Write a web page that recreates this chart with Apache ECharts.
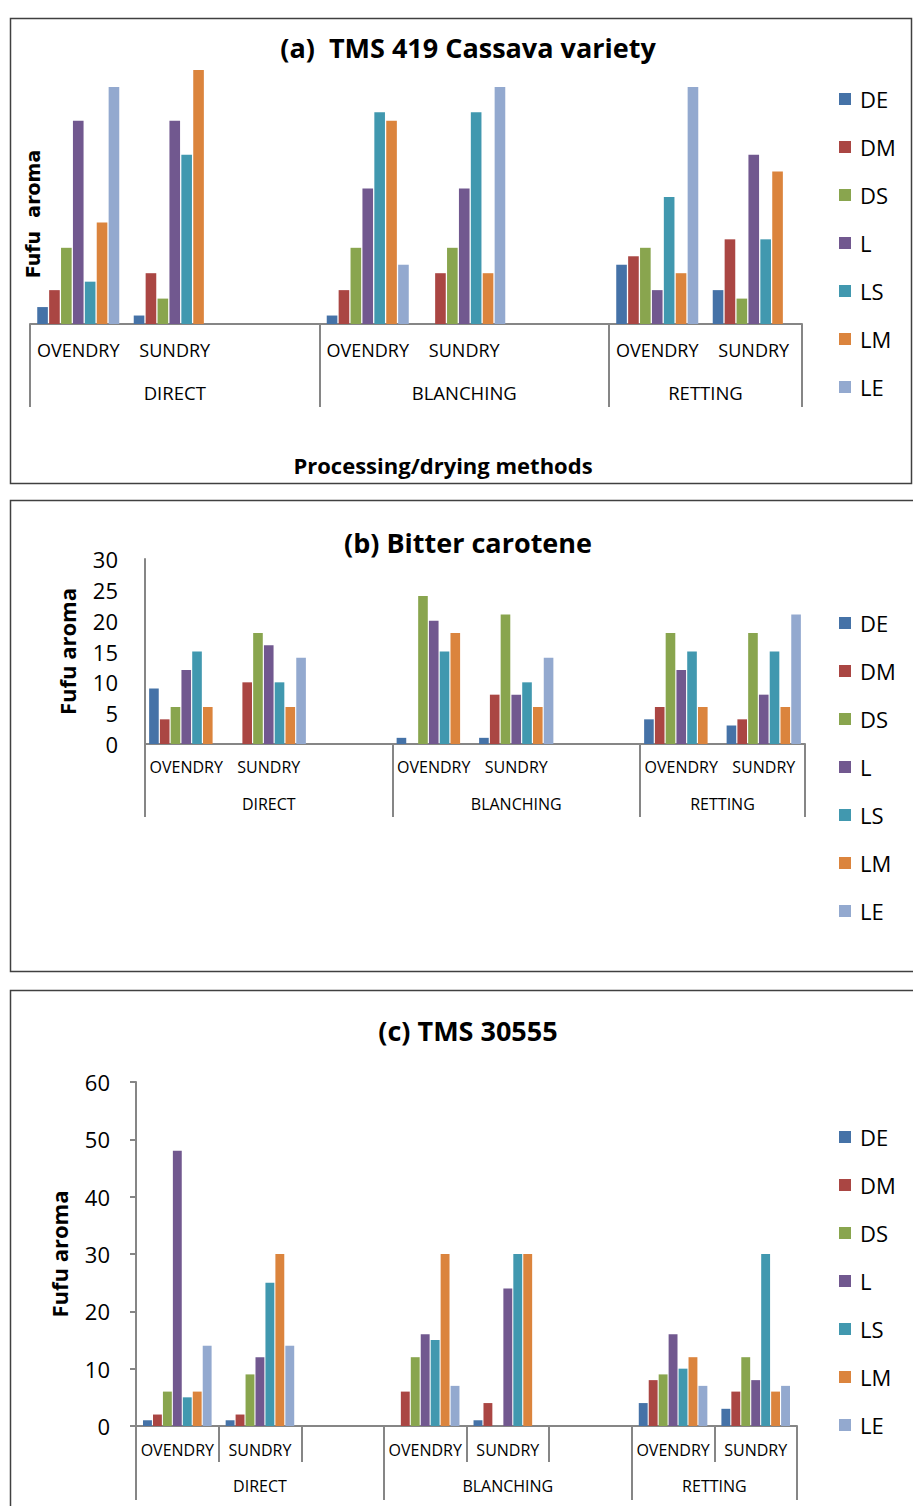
<!DOCTYPE html>
<html>
<head>
<meta charset="utf-8">
<script src="https://cdn.jsdelivr.net/npm/echarts@6/dist/echarts.min.js"></script>
<style>
html,body{margin:0;padding:0;background:#fff;}
#chart{width:913px;height:1506px;}
</style>
</head>
<body>
<div id="chart"></div>
<script>
// ---- categories ----
const subCats = ['OVENDRY', 'SUNDRY', '', 'OVENDRY', 'SUNDRY', '', 'OVENDRY', 'SUNDRY'];
const groups = ['DIRECT', 'BLANCHING', 'RETTING'];
const groupSlots = [3, 3, 2];
const seriesNames = ['DE', 'DM', 'DS', 'L', 'LS', 'LM', 'LE'];
const colors = ['#4572A7', '#AA4643', '#89A54E', '#71588F', '#4198AF', '#DB843D', '#93A9CF'];

// ---- (a) TMS 419 Cassava variety ----
const a_DE = [2, 1, null, 1, 0, null, 7, 4];
const a_DM = [4, 6, null, 4, 6, null, 8, 10];
const a_DS = [9, 3, null, 9, 9, null, 9, 3];
const a_L  = [24, 24, null, 16, 16, null, 4, 20];
const a_LS = [5, 20, null, 25, 25, null, 15, 10];
const a_LM = [12, 30, null, 24, 6, null, 6, 18];
const a_LE = [28, 0, null, 7, 28, null, 28, 0];

// ---- (b) Bitter carotene ----
const b_DE = [9, 0, null, 1, 1, null, 4, 3];
const b_DM = [4, 10, null, 0, 8, null, 6, 4];
const b_DS = [6, 18, null, 24, 21, null, 18, 18];
const b_L  = [12, 16, null, 20, 8, null, 12, 8];
const b_LS = [15, 10, null, 15, 10, null, 15, 15];
const b_LM = [6, 6, null, 18, 6, null, 6, 6];
const b_LE = [0, 14, null, 0, 14, null, 0, 21];

// ---- (c) TMS 30555 ----
const c_DE = [1, 1, null, 0, 1, null, 4, 3];
const c_DM = [2, 2, null, 6, 4, null, 8, 6];
const c_DS = [6, 9, null, 12, 0, null, 9, 12];
const c_L  = [48, 12, null, 16, 24, null, 16, 8];
const c_LS = [5, 25, null, 15, 30, null, 10, 30];
const c_LM = [6, 30, null, 30, 30, null, 12, 6];
const c_LE = [14, 14, null, 7, 0, null, 7, 7];

const titles = ['(a)  TMS 419 Cassava variety', '(b) Bitter carotene', '(c) TMS 30555'];
const yNameA = 'Fufu  aroma';
const yName = 'Fufu aroma';
const xName = 'Processing/drying methods';

// ---- structure helpers ----
const bounds = [0];
groupSlots.forEach(s => bounds.push(bounds[bounds.length - 1] + s));
const centers = groups.map((g, i) => (bounds[i] + bounds[i + 1]) / 2);
const totalSlots = bounds[bounds.length - 1];

const panelData = [
  [a_DE, a_DM, a_DS, a_L, a_LS, a_LM, a_LE],
  [b_DE, b_DM, b_DS, b_L, b_LS, b_LM, b_LE],
  [c_DE, c_DM, c_DS, c_L, c_LS, c_LM, c_LE]
];

const FONT = '"Open Sans", "Noto Sans", sans-serif';
const GRAY = '#868686';

const panels = [
  {grid: {left: 30, top: 70, width: 772, height: 254}, ymax: 30, yint: 5, showY: false, catGap: '15%',
   subFont: 18, subMargin: 17, grpFont: 18.5, grpMargin: 59, grpTick: 83, subTick: false},
  {grid: {left: 145, top: 559, width: 660, height: 185}, ymax: 30, yint: 5, showY: true, yTick: false, yLabelMargin: 27, nameGap: 67, catGap: '10%',
   subFont: 16, subMargin: 15, grpFont: 16, grpMargin: 52, grpTick: 73, subTick: false},
  {grid: {left: 136, top: 1082, width: 661, height: 344}, ymax: 60, yint: 10, showY: true, yTick: true, yLabelMargin: 26, nameGap: 66, catGap: '17%',
   subFont: 16, subMargin: 16, grpFont: 16, grpMargin: 52, grpTick: 74, subTick: true}
];

const grid = [], xAxis = [], yAxis = [], series = [], legend = [];
panels.forEach((p, i) => {
  grid.push(Object.assign({containLabel: false}, p.grid));
  xAxis.push({
    type: 'category', gridIndex: i, data: subCats,
    axisLine: {lineStyle: {color: GRAY, width: 2}},
    axisTick: {show: p.subTick, length: 36, lineStyle: {color: GRAY, width: 2}},
    axisLabel: {interval: 0, margin: p.subMargin, fontSize: p.subFont, color: '#000', fontFamily: FONT},
    splitLine: {show: false}
  });
  xAxis.push({
    type: 'value', gridIndex: i, min: 0, max: totalSlots, position: 'bottom',
    axisLine: {show: false}, splitLine: {show: false},
    axisTick: {show: true, customValues: bounds, length: p.grpTick, lineStyle: {color: GRAY, width: 2}},
    axisLabel: {customValues: centers, margin: p.grpMargin, fontSize: p.grpFont, color: '#000', fontFamily: FONT,
      formatter: v => { const k = centers.findIndex(c => Math.abs(c - v) < 1e-6); return k >= 0 ? groups[k] : ''; }}
  });
  const y = {
    type: 'value', gridIndex: i, min: 0, max: p.ymax, interval: p.yint,
    splitLine: {show: false}
  };
  if (!p.showY) {
    y.show = false;
  } else {
    Object.assign(y, {
      axisLine: {show: true, lineStyle: {color: GRAY, width: 2}},
      axisTick: {show: p.yTick, length: 6, lineStyle: {color: GRAY, width: 2}},
      axisLabel: {margin: p.yLabelMargin, fontSize: 22, color: '#000', fontFamily: FONT},
      name: yName, nameLocation: 'middle', nameGap: p.nameGap,
      nameTextStyle: {fontSize: 22, fontWeight: 'bold', color: '#000', fontFamily: FONT}
    });
  }
  yAxis.push(y);
  seriesNames.forEach((n, k) => {
    series.push({
      type: 'bar', name: n, xAxisIndex: 2 * i, yAxisIndex: i,
      data: panelData[i][k], barGap: '12%', barCategoryGap: p.catGap,
      itemStyle: {color: colors[k]},
      emphasis: {disabled: true}, animation: false
    });
  });
});

const legendTops = [83, 607, 1121];
legendTops.forEach(t => legend.push({
  orient: 'vertical', left: 834, top: t, icon: 'rect', itemWidth: 12, itemHeight: 12, itemGap: 26,
  selectedMode: false, data: seriesNames,
  textStyle: {fontSize: 22, color: '#000', fontFamily: FONT, lineHeight: 20, padding: [0, 0, 0, 4]}
}));

const titleY = [47, 542, 1030];
const graphic = [
  {type: 'rect', shape: {x: 10.5, y: 18.5, width: 901, height: 465}, style: {fill: 'none', stroke: '#404040', lineWidth: 1.5}, silent: true},
  {type: 'rect', shape: {x: 10.5, y: 500.5, width: 910, height: 471}, style: {fill: 'none', stroke: '#404040', lineWidth: 1.5}, silent: true},
  {type: 'rect', shape: {x: 10.5, y: 990.5, width: 910, height: 530}, style: {fill: 'none', stroke: '#404040', lineWidth: 1.5}, silent: true},
  {type: 'text', x: 33, y: 214, rotation: Math.PI / 2, style: {text: yNameA, fontFamily: '"DejaVu Sans", Verdana, sans-serif', fontSize: 19, fontWeight: 'bold', align: 'center', verticalAlign: 'middle', fill: '#000'}},
  {type: 'text', x: 443, y: 465, style: {text: xName, fontFamily: FONT, fontSize: 22, fontWeight: 'bold', align: 'center', verticalAlign: 'middle', fill: '#000'}}
];
titles.forEach((t, i) => graphic.push({type: 'text', x: 468, y: titleY[i], style: {text: t, fontFamily: FONT, fontSize: 27, fontWeight: 'bold', align: 'center', verticalAlign: 'middle', fill: '#000'}}));

const chart = echarts.init(document.getElementById('chart'), null, {renderer: 'svg'});
chart.setOption({
  animation: false,
  backgroundColor: '#fff',
  textStyle: {fontFamily: FONT},
  grid, xAxis, yAxis, series, legend, graphic
});
</script>
</body>
</html>
